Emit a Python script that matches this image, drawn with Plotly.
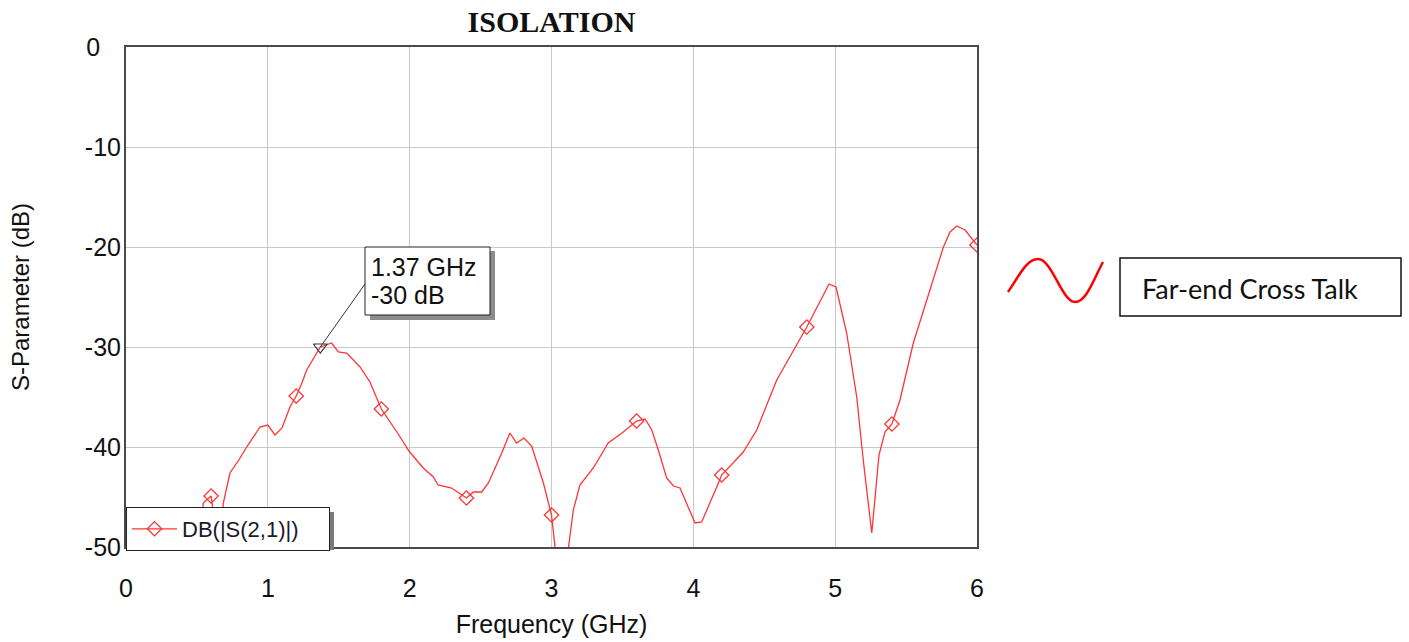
import plotly.graph_objects as go

# S21 isolation sweep (GHz, dB)
freq_ghz = [0.0, 0.3, 0.5, 0.545, 0.6, 0.63, 0.655, 0.675, 0.686, 0.733, 0.8, 0.851,
            0.945, 1.0, 1.05, 1.1, 1.156, 1.2, 1.24, 1.274, 1.37, 1.45, 1.497, 1.556,
            1.65, 1.72, 1.8, 1.91, 2.0, 2.096, 2.167, 2.2, 2.296, 2.4, 2.449, 2.508,
            2.555, 2.649, 2.707, 2.754, 2.806, 2.86, 2.943, 3.0, 3.025, 3.07, 3.12,
            3.154, 3.2, 3.295, 3.4, 3.506, 3.6, 3.66, 3.707, 3.753, 3.812, 3.86,
            3.906, 4.012, 4.059, 4.165, 4.2, 4.352, 4.447, 4.588, 4.658, 4.8, 4.957,
            5.006, 5.081, 5.152, 5.198, 5.258, 5.309, 5.351, 5.4, 5.457, 5.551,
            5.645, 5.763, 5.81, 5.857, 5.916, 6.0]
s21_db = [-70.0, -60.0, -52.0, -45.6, -44.9, -48.0, -52.0, -48.0, -45.6, -42.6, -41.2, -40.0,
          -38.0, -37.8, -38.8, -38.1, -36.0, -34.9, -33.6, -32.3, -30.0, -29.6, -30.5, -30.6,
          -32.0, -33.5, -36.2, -38.5, -40.5, -42.1, -43.0, -43.8, -44.1, -45.1, -44.5, -44.5,
          -43.6, -40.6, -38.6, -39.6, -39.1, -39.9, -43.6, -46.8, -50.0, -58.0, -50.0,
          -46.3, -43.8, -42.1, -39.6, -38.5, -37.4, -37.2, -38.3, -40.3, -43.1, -43.9,
          -44.1, -47.6, -47.5, -44.0, -42.8, -40.5, -38.3, -33.3, -31.5, -28.0, -23.7,
          -24.0, -28.6, -35.0, -41.3, -48.6, -40.8, -38.5, -37.7, -35.3, -29.6,
          -25.3, -20.0, -18.5, -17.9, -18.3, -19.8]

# frequencies that carry a diamond symbol
marker_freqs = [0.0, 0.6, 1.2, 1.8, 2.4, 3.0, 3.6, 4.2, 4.8, 5.4, 6.0]

# marker readout
marker_f = 1.37
marker_db = -30.0

x_ticks = [0, 1, 2, 3, 4, 5, 6]
y_ticks = [0, -10, -20, -30, -40, -50]
y_tick_text = ["0\u2007\u2008", "-10", "-20", "-30", "-40", "-50"]

RED = "#ff3434"
W, H = 1409, 642
ML, MR, MT, MB = 126, 432, 47, 95
PW, PH = W - ML - MR, H - MT - MB


def px(x):
    return (x - ML) / PW


def py(y):
    return (MT + PH - y) / PH


marker_colors = [RED if any(abs(f - m) < 1e-9 for m in marker_freqs) else "rgba(0,0,0,0)"
                 for f in freq_ghz]

fig = go.Figure()
fig.add_trace(go.Scatter(
    x=freq_ghz, y=s21_db, mode="lines+markers",
    name="DB(|S(2,1)|)" + "\u00a0" * 4,
    line=dict(color=RED, width=1.3),
    marker=dict(symbol="diamond-open", size=11, color=marker_colors,
                line=dict(width=1.3)),
))
fig.add_trace(go.Scatter(
    x=[marker_f], y=[marker_db], mode="markers", showlegend=False,
    marker=dict(symbol="triangle-down-open", size=12, color="#333333",
                line=dict(width=1.2)),
))

font_main = "Liberation Sans, Arial, sans-serif"

shapes = [
    # leader from the marker to its readout box
    dict(type="line", xref="x", yref="y", x0=marker_f, y0=marker_db,
         x1=(365 - ML) / PW * 6, y1=-(284 - MT) / 10.0,
         line=dict(color="#333333", width=1), layer="above"),
    # readout box shadow + box
    dict(type="rect", xref="paper", yref="paper", x0=px(370), x1=px(495),
         y0=py(251), y1=py(320), fillcolor="#8c8c8c", line=dict(width=0), layer="above"),
    dict(type="rect", xref="paper", yref="paper", x0=px(365), x1=px(490),
         y0=py(247), y1=py(315), fillcolor="white",
         line=dict(color="#222222", width=1), layer="above"),
    # legend shadow
    dict(type="rect", xref="paper", yref="paper", x0=px(131), x1=px(334),
         y0=py(512), y1=py(550), fillcolor="#7a7a7a", line=dict(width=0), layer="above"),
    # side note box
    dict(type="rect", xref="paper", yref="paper", x0=px(1120), x1=px(1401),
         y0=py(258), y1=py(316), fillcolor="white",
         line=dict(color="#111111", width=1.5), layer="above"),
]

# small wave glyph beside the note
wave = [(1008, 292), (1018, 278), (1026, 259), (1038, 259),
        (1052, 259), (1062, 302), (1075, 302),
        (1087, 302), (1095, 276), (1103, 262)]
pts = [f"{px(a):.5f},{py(b):.5f}" for a, b in wave]
path = (f"M {pts[0]} C {pts[1]} {pts[2]} {pts[3]} "
        f"C {pts[4]} {pts[5]} {pts[6]} C {pts[7]} {pts[8]} {pts[9]}")
shapes.append(dict(type="path", xref="paper", yref="paper", path=path,
                   line=dict(color="#ff0000", width=2.5), layer="above"))

annotations = [
    dict(text=f"{marker_f:.2f} GHz", xref="paper", yref="paper", x=px(369), y=py(267),
         xanchor="left", yanchor="middle", showarrow=False,
         font=dict(family=font_main, size=25, color="#111111")),
    dict(text=f"{marker_db:.0f} dB", xref="paper", yref="paper", x=px(369), y=py(295),
         xanchor="left", yanchor="middle", showarrow=False,
         font=dict(family=font_main, size=25, color="#111111")),
    dict(text="Far-end Cross Talk", xref="paper", yref="paper", x=px(1140), y=py(288),
         xanchor="left", yanchor="middle", showarrow=False,
         font=dict(family="Lato, Carlito, Calibri, sans-serif", size=27, color="#111111")),
]

axis_common = dict(
    showgrid=True, gridcolor="#c8c8c8", gridwidth=1,
    showline=True, mirror=True, linecolor="#4a4a4a", linewidth=2,
    zeroline=False, ticks="", automargin=False,
    tickfont=dict(family=font_main, size=25, color="#111111"),
)

fig.update_layout(
    width=W, height=H,
    margin=dict(l=ML, r=MR, t=MT, b=MB, autoexpand=False),
    paper_bgcolor="white", plot_bgcolor="white",
    title=dict(text="<b>ISOLATION</b>", x=0.5, xref="paper", xanchor="center",
               y=1 - 21 / H, yref="container", yanchor="middle",
               font=dict(family="Liberation Serif, Times New Roman, serif", size=30,
                         color="#111111")),
    xaxis=dict(range=[0, 6], tickvals=x_ticks, ticklabelstandoff=18,
               title=dict(text="Frequency (GHz)", standoff=14,
                          font=dict(family=font_main, size=25, color="#111111")),
               **axis_common),
    yaxis=dict(range=[-50, 0], tickvals=y_ticks, ticktext=y_tick_text,
               ticklabelstandoff=-2,
               title=dict(text="S-Parameter (dB)", standoff=48,
                          font=dict(family=font_main, size=24, color="#111111")),
               **axis_common),
    showlegend=True,
    legend=dict(x=0, xanchor="left", y=py(507), yanchor="top",
                bgcolor="white", bordercolor="#222222", borderwidth=1,
                itemwidth=45,
                font=dict(family=font_main, size=22, color="#1a1a2e")),
    shapes=shapes,
    annotations=annotations,
)

fig.write_html("out.html")
